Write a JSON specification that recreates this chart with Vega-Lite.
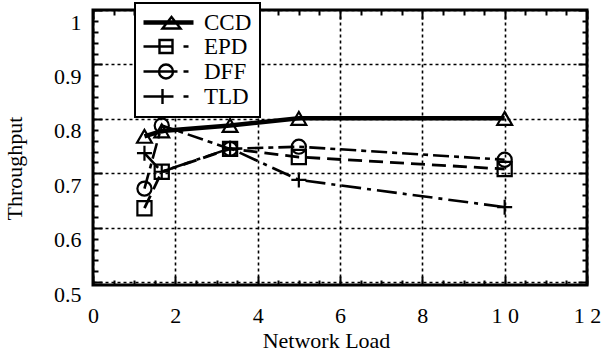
{
  "$schema": "https://vega.github.io/schema/vega-lite/v6.json",
  "width": 494,
  "height": 275,
  "autosize": {"type": "none"},
  "padding": {"left": 93, "top": 10, "right": 23, "bottom": 71},
  "background": "white",
  "config": {
    "view": {"stroke": "black", "strokeWidth": 3},
    "font": "Liberation Serif",
    "legend": {"strokeWidth": 2, "rowPadding": 0}
  },
  "data": {
    "values": [
      {"series": "CCD", "load": 1.25, "throughput": 0.768},
      {"series": "CCD", "load": 1.67, "throughput": 0.778},
      {"series": "CCD", "load": 3.33, "throughput": 0.788},
      {"series": "CCD", "load": 5, "throughput": 0.801},
      {"series": "CCD", "load": 10, "throughput": 0.801},
      {"series": "EPD", "load": 1.25, "throughput": 0.636},
      {"series": "EPD", "load": 1.67, "throughput": 0.703},
      {"series": "EPD", "load": 3.33, "throughput": 0.745},
      {"series": "EPD", "load": 5, "throughput": 0.73},
      {"series": "EPD", "load": 10, "throughput": 0.708},
      {"series": "DFF", "load": 1.25, "throughput": 0.672},
      {"series": "DFF", "load": 1.67, "throughput": 0.788},
      {"series": "DFF", "load": 3.33, "throughput": 0.745},
      {"series": "DFF", "load": 5, "throughput": 0.749},
      {"series": "DFF", "load": 10, "throughput": 0.725},
      {"series": "TLD", "load": 1.25, "throughput": 0.737},
      {"series": "TLD", "load": 1.67, "throughput": 0.703},
      {"series": "TLD", "load": 3.33, "throughput": 0.746},
      {"series": "TLD", "load": 5, "throughput": 0.688},
      {"series": "TLD", "load": 10, "throughput": 0.638}
    ]
  },
  "resolve": {"axis": {"x": "independent", "y": "independent"}},
  "layer": [
    {
      "transform": [{"filter": "datum.series == 'CCD'"}],
      "mark": {"type": "line", "color": "black", "strokeWidth": 4.5, "strokeCap": "butt"},
      "encoding": {
        "x": {
          "field": "load", "type": "quantitative",
          "scale": {"domain": [0, 12], "nice": false, "zero": false},
          "axis": {
            "orient": "bottom",
            "values": [0,0.5,1,1.5,2,2.5,3,3.5,4,4.5,5,5.5,6,6.5,7,7.5,8,8.5,9,9.5,10,10.5,11,11.5,12],
            "labelExpr": "datum.value % 2 == 0 ? (datum.value == 10 ? '1 0' : datum.value == 12 ? '1 2' : format(datum.value, 'd')) : ''",
            "domain": false,
            "grid": true,
            "gridColor": "black",
            "gridDash": [3, 3],
            "gridWidth": 1.6,
            "gridOpacity": {"condition": {"test": "datum.value % 2 == 0", "value": 1}, "value": 0},
            "ticks": true,
            "tickColor": "black",
            "tickWidth": 2,
            "tickSize": {"condition": {"test": "datum.value % 2 == 0", "value": -9}, "value": -5},
            "labelFont": "Liberation Serif",
            "labelFontSize": 22,
            "labelColor": "black",
            "labelPadding": 29,
            "labelBaseline": "top",
            "labelOverlap": false,
            "labelBound": false,
            "labelFlush": false,
            "title": "Network Load",
            "titleFont": "Liberation Serif",
            "titleFontSize": 22,
            "titleFontWeight": "normal",
            "titleColor": "black",
            "titleX": 233,
            "titleY": 62,
            "titleAlign": "center",
            "titleBaseline": "alphabetic"
          }
        },
        "y": {
          "field": "throughput", "type": "quantitative",
          "scale": {"domain": [0.495, 1.0], "nice": false, "zero": false},
          "axis": {
            "orient": "left",
            "values": [0.5,0.52,0.54,0.56,0.58,0.6,0.62,0.64,0.66,0.68,0.7,0.72,0.74,0.76,0.78,0.8,0.82,0.84,0.86,0.88,0.9,0.92,0.94,0.96,0.98,1.0],
            "labelExpr": "abs(datum.value*10 - round(datum.value*10)) < 0.001 ? (datum.value == 1 ? '1' : format(datum.value, '.1f')) : ''",
            "domain": false,
            "grid": true,
            "gridColor": "black",
            "gridDash": [3, 3],
            "gridWidth": 1.6,
            "gridOpacity": {"condition": {"test": "abs(datum.value*10 - round(datum.value*10)) < 0.001", "value": 1}, "value": 0},
            "ticks": true,
            "tickColor": "black",
            "tickWidth": 2,
            "tickSize": {"condition": {"test": "abs(datum.value*10 - round(datum.value*10)) < 0.001", "value": -9}, "value": -5},
            "labelFont": "Liberation Serif",
            "labelFontSize": 22,
            "labelColor": "black",
            "labelPadding": 21,
            "labelOffset": 12,
            "labelBaseline": "middle",
            "labelOverlap": false,
            "labelBound": false,
            "labelFlush": false,
            "title": "Throughput",
            "titleFont": "Liberation Serif",
            "titleFontSize": 22,
            "titleFontWeight": "normal",
            "titleColor": "black",
            "titleX": -72,
            "titleY": 158,
            "titleAngle": -90,
            "titleAlign": "center",
            "titleBaseline": "alphabetic"
          }
        },
        "order": {"field": "load"}
      }
    },
    {
      "transform": [{"filter": "datum.series == 'EPD'"}],
      "mark": {"type": "line", "color": "black", "strokeWidth": 2.8, "strokeDash": [14, 7], "strokeCap": "butt"},
      "encoding": {
        "x": {"field": "load", "type": "quantitative", "axis": null},
        "y": {"field": "throughput", "type": "quantitative", "axis": null},
        "order": {"field": "load"}
      }
    },
    {
      "transform": [{"filter": "datum.series == 'DFF'"}],
      "mark": {"type": "line", "color": "black", "strokeWidth": 2.6, "strokeDash": [16, 5, 5, 5], "strokeCap": "butt"},
      "encoding": {
        "x": {"field": "load", "type": "quantitative", "axis": null},
        "y": {"field": "throughput", "type": "quantitative", "axis": null},
        "order": {"field": "load"}
      }
    },
    {
      "transform": [{"filter": "datum.series == 'TLD'"}],
      "mark": {"type": "line", "color": "black", "strokeWidth": 2.6, "strokeDash": [20, 6, 4, 6], "strokeCap": "butt"},
      "encoding": {
        "x": {"field": "load", "type": "quantitative", "axis": null},
        "y": {"field": "throughput", "type": "quantitative", "axis": null},
        "order": {"field": "load"}
      }
    },
    {
      "transform": [{"filter": "datum.series == 'CCD'"}],
      "mark": {"type": "point", "shape": "triangle-up", "size": 220, "filled": false, "color": "black", "strokeWidth": 2.2, "opacity": 1},
      "encoding": {
        "x": {
          "field": "load", "type": "quantitative",
          "axis": {
            "orient": "top",
            "values": [0,0.5,1,1.5,2,2.5,3,3.5,4,4.5,5,5.5,6,6.5,7,7.5,8,8.5,9,9.5,10,10.5,11,11.5,12],
            "labels": false,
            "domain": false,
            "grid": false,
            "ticks": true,
            "tickColor": "black",
            "tickWidth": 2,
            "tickSize": {"condition": {"test": "datum.value % 2 == 0", "value": -9}, "value": -5},
            "title": null
          }
        },
        "y": {
          "field": "throughput", "type": "quantitative",
          "axis": {
            "orient": "right",
            "values": [0.5,0.52,0.54,0.56,0.58,0.6,0.62,0.64,0.66,0.68,0.7,0.72,0.74,0.76,0.78,0.8,0.82,0.84,0.86,0.88,0.9,0.92,0.94,0.96,0.98,1.0],
            "labels": false,
            "domain": false,
            "grid": false,
            "ticks": true,
            "tickColor": "black",
            "tickWidth": 2,
            "tickSize": {"condition": {"test": "abs(datum.value*10 - round(datum.value*10)) < 0.001", "value": -9}, "value": -5},
            "title": null
          }
        }
      }
    },
    {
      "transform": [{"filter": "datum.series == 'EPD'"}],
      "mark": {"type": "point", "shape": "square", "size": 200, "filled": false, "color": "black", "strokeWidth": 2.2, "opacity": 1},
      "encoding": {
        "x": {"field": "load", "type": "quantitative", "axis": null},
        "y": {"field": "throughput", "type": "quantitative", "axis": null}
      }
    },
    {
      "transform": [{"filter": "datum.series == 'DFF'"}],
      "mark": {"type": "point", "shape": "circle", "size": 200, "filled": false, "color": "black", "strokeWidth": 2.2, "opacity": 1},
      "encoding": {
        "x": {"field": "load", "type": "quantitative", "axis": null},
        "y": {"field": "throughput", "type": "quantitative", "axis": null}
      }
    },
    {
      "transform": [{"filter": "datum.series == 'TLD'"}],
      "mark": {"type": "point", "shape": "M-1,0H1M0,-1V1", "size": 225, "filled": false, "color": "black", "strokeWidth": 2.2, "opacity": 1},
      "encoding": {
        "x": {"field": "load", "type": "quantitative", "axis": null},
        "y": {"field": "throughput", "type": "quantitative", "axis": null}
      }
    },
    {
      "transform": [{"filter": "false"}],
      "mark": {"type": "point", "filled": false, "color": "black", "size": 400, "strokeWidth": 2.4, "opacity": 1},
      "encoding": {
        "x": {"field": "load", "type": "quantitative", "axis": null},
        "y": {"field": "throughput", "type": "quantitative", "axis": null},
        "shape": {
          "field": "series", "type": "nominal",
          "scale": {
            "domain": ["CCD", "EPD", "DFF", "TLD"],
            "range": [
              "M-1.1,-0.1H3.9M-1.1,0H3.9M-1.1,0.1H3.9M0.8,0.6L1.7,-0.55L2.6,0.6Z",
              "M-1.1,0H1.8M0.5,-0.65H1.8V0.65H0.5ZM2.9,0H3.4",
              "M-1.1,0H2.3M0.45,0A0.7,0.7,0,1,0,1.85,0A0.7,0.7,0,1,0,0.45,0ZM2.9,0H3.4",
              "M-1.1,0H1.9M0.8,-0.75V0.75M2.9,0H3.4"
            ]
          },
          "legend": {
            "orient": "none",
            "legendX": 42,
            "legendY": -7,
            "title": null,
            "padding": 8,
            "rowPadding": 0,
            "fillColor": "white",
            "strokeColor": "black",
            "symbolSize": 400,
            "symbolStrokeWidth": 2.4,
            "symbolStrokeColor": "black",
            "symbolFillColor": "transparent",
            "symbolOpacity": 1,
            "labelFont": "Liberation Serif",
            "labelFontSize": 23,
            "labelColor": "black",
            "labelOffset": 38,
            "labelLimit": 200
          }
        }
      }
    }
  ]
}
